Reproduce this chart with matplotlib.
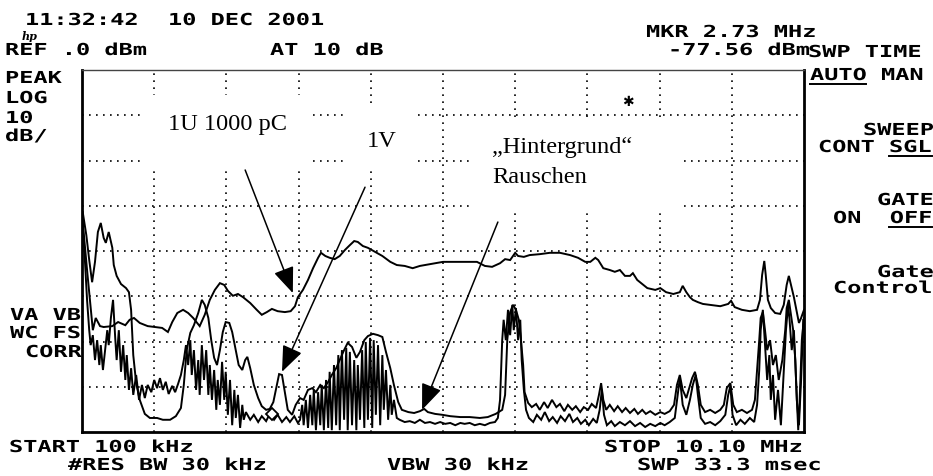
import matplotlib
matplotlib.use("Agg")
import matplotlib.pyplot as plt
from matplotlib.patches import Rectangle
from matplotlib.lines import Line2D
from matplotlib.patheffects import AbstractPathEffect
from matplotlib.transforms import Affine2D, ScaledTranslation

# ---------------- data (MHz, dBm) ----------------
freq_1u = [0.11, 0.17, 0.21, 0.25, 0.29, 0.35, 0.40, 0.52, 0.60, 0.70, 0.76, 0.82, 0.90, 1.01, 1.11,
           1.21, 1.29, 1.35, 1.42, 1.50, 1.57, 1.64, 1.73, 1.80, 1.87, 1.94, 2.01, 2.07, 2.12, 2.19,
           2.26, 2.33, 2.43, 2.52, 2.59, 2.66, 2.73, 2.81, 2.91, 2.99, 3.05, 3.09, 3.16, 3.23, 3.30,
           3.37, 3.41, 3.47, 3.53, 3.60, 3.67, 3.74, 3.81, 3.87, 3.92, 3.99, 4.06, 4.16, 4.26, 4.37,
           4.46, 4.57, 4.68, 4.78, 4.92, 5.10, 5.34, 5.57, 5.68, 5.78, 5.89, 5.96, 6.03, 6.10, 6.14,
           6.22, 6.30, 6.44, 6.58, 6.72, 6.86, 6.97, 7.07, 7.14, 7.21, 7.25, 7.32, 7.41, 7.48, 7.55,
           7.62, 7.69, 7.73, 7.79, 7.86, 7.93, 8.04, 8.11, 8.19, 8.29, 8.38, 8.42, 8.47, 8.52, 8.56,
           8.63, 8.70, 8.80, 8.94, 9.05, 9.09, 9.14, 9.24, 9.35, 9.45, 9.49, 9.52, 9.55, 9.57, 9.60,
           9.64, 9.70, 9.77, 9.82, 9.86, 9.89, 9.92, 9.96, 10.00, 10.03, 10.06, 10.10]
level_1u = [-33.6, -44.2, -50.8, -57.5, -54.8, -56.6, -56.8, -56.6, -55.7, -56.4, -55.2, -54.8, -55.9, -56.6, -56.8,
            -57.0, -57.9, -55.7, -53.7, -53.0, -53.7, -54.8, -56.6, -54.1, -50.8, -48.6, -47.1, -47.5, -48.8, -49.9,
            -49.5, -50.2, -51.5, -53.0, -54.1, -53.5, -52.8, -53.3, -53.5, -53.3, -52.2, -50.2, -48.6, -46.4, -43.8,
            -41.5, -40.4, -41.1, -41.5, -41.8, -41.1, -39.8, -38.7, -37.8, -38.0, -38.9, -39.3, -40.2, -41.1, -42.4,
            -43.1, -43.3, -43.8, -43.3, -42.9, -42.4, -42.4, -42.4, -43.3, -43.5, -42.7, -41.8, -42.0, -40.4, -41.1,
            -41.3, -40.9, -40.7, -40.4, -40.4, -40.9, -41.5, -42.4, -42.4, -41.5, -42.0, -43.8, -44.2, -44.6, -44.2,
            -45.5, -45.5, -44.9, -46.4, -47.3, -48.2, -48.6, -48.2, -49.1, -49.5, -49.1, -47.7, -49.1, -50.2, -50.8,
            -51.3, -51.7, -51.9, -52.2, -51.7, -51.0, -52.4, -53.0, -53.3, -53.0, -50.8, -45.3, -42.2, -45.3, -50.8,
            -52.6, -53.7, -53.9, -51.9, -47.5, -45.5, -47.5, -50.2, -53.5, -55.9, -54.8, -53.0]

freq_1v = [0.11, 0.16, 0.20, 0.24, 0.28, 0.32, 0.36, 0.40, 0.43, 0.47, 0.52, 0.54, 0.58, 0.64, 0.71,
           0.75, 0.78, 0.81, 0.85, 0.90, 0.97, 1.04, 1.14, 1.22, 1.32, 1.40, 1.47, 1.51, 1.55, 1.60,
           1.65, 1.71, 1.76, 1.80, 1.85, 1.89, 1.93, 1.97, 2.01, 2.05, 2.09, 2.14, 2.18, 2.23, 2.27,
           2.32, 2.36, 2.39, 2.43, 2.48, 2.54, 2.59, 2.65, 2.70, 2.75, 2.79, 2.83, 2.87, 2.91, 2.95,
           3.01, 3.06, 3.12, 3.17, 3.23, 3.29, 3.34, 3.40, 3.45, 3.51, 3.56, 3.62, 3.67, 3.73, 3.78,
           3.84, 3.90, 3.95, 4.01, 4.06, 4.13, 4.20, 4.26, 4.31, 4.37, 4.42, 4.48, 4.53, 4.62, 4.70,
           4.78, 4.84, 4.89, 4.99, 5.09, 5.20, 5.34, 5.47, 5.61, 5.72, 5.83, 5.92, 5.96, 5.99, 6.03,
           6.07, 6.11, 6.15, 6.18, 6.21, 6.23, 6.28, 6.33, 6.39, 6.44, 6.50, 6.55, 6.61, 6.67, 6.72,
           6.78, 6.83, 6.89, 6.94, 7.00, 7.05, 7.11, 7.16, 7.22, 7.26, 7.29, 7.32, 7.36, 7.41, 7.47,
           7.52, 7.58, 7.63, 7.69, 7.75, 7.80, 7.86, 7.91, 7.97, 8.04, 8.11, 8.17, 8.24, 8.30, 8.34,
           8.38, 8.42, 8.47, 8.51, 8.55, 8.59, 8.63, 8.67, 8.73, 8.80, 8.87, 8.94, 8.99, 9.03, 9.08,
           9.12, 9.17, 9.24, 9.31, 9.38, 9.42, 9.45, 9.48, 9.50, 9.53, 9.56, 9.59, 9.63, 9.67, 9.71,
           9.75, 9.80, 9.84, 9.86, 9.89, 9.92, 9.95, 9.98, 10.00, 10.03, 10.06, 10.09]
level_1v = [-31.4, -36.5, -42.0, -46.9, -42.4, -35.8, -33.8, -37.1, -38.2, -35.8, -39.3, -43.1, -45.5, -47.3, -48.2,
            -49.1, -53.0, -63.0, -69.2, -72.9, -76.0, -76.9, -76.9, -77.3, -77.3, -76.5, -74.7, -69.6, -61.9, -58.1,
            -56.4, -53.7, -50.8, -51.9, -54.8, -59.7, -63.6, -65.2, -61.9, -57.9, -55.7, -55.9, -57.9, -61.9, -65.2,
            -66.3, -64.1, -63.4, -65.9, -69.6, -72.5, -74.3, -75.1, -74.9, -73.4, -70.3, -67.2, -67.4, -71.2, -75.1,
            -76.2, -74.0, -72.5, -72.9, -70.7, -70.3, -71.2, -69.6, -70.3, -68.9, -67.4, -65.9, -64.1, -61.9, -60.3,
            -61.2, -63.6, -62.3, -59.7, -58.8, -58.3, -58.6, -59.0, -62.3, -65.9, -69.6, -73.4, -75.1, -75.6, -75.8,
            -75.4, -74.9, -75.6, -76.0, -76.2, -76.5, -76.7, -76.7, -76.9, -76.7, -76.0, -75.1, -71.8, -59.7, -53.5,
            -51.9, -53.0, -55.2, -59.7, -65.2, -71.2, -73.6, -74.5, -73.8, -75.1, -73.4, -74.7, -72.9, -74.5, -73.8,
            -75.4, -74.0, -75.1, -74.3, -75.6, -74.5, -75.1, -73.8, -74.7, -71.8, -69.2, -72.9, -75.1, -74.0, -75.4,
            -74.3, -75.6, -74.7, -75.8, -74.9, -76.0, -75.1, -76.0, -75.4, -76.2, -75.6, -76.0, -75.4, -74.0, -69.6,
            -67.4, -70.7, -72.5, -70.3, -68.1, -66.7, -69.6, -74.0, -75.6, -75.1, -75.8, -75.1, -74.0, -70.3, -69.2,
            -74.0, -75.6, -75.1, -75.8, -75.1, -72.9, -66.3, -59.7, -54.8, -53.5, -57.5, -61.9, -59.7, -65.2, -63.0,
            -68.5, -64.1, -57.5, -52.6, -50.8, -54.1, -57.5, -64.1, -72.9, -78.5, -68.5, -55.2]

freq_bg = [0.11, 0.14, 0.17, 0.20, 0.22, 0.25, 0.28, 0.31, 0.34, 0.36, 0.39, 0.42, 0.45, 0.47, 0.50,
           0.53, 0.56, 0.58, 0.61, 0.64, 0.67, 0.70, 0.72, 0.75, 0.78, 0.81, 0.85, 0.89, 0.93, 0.97,
           1.01, 1.06, 1.10, 1.14, 1.18, 1.22, 1.26, 1.30, 1.35, 1.39, 1.43, 1.47, 1.51, 1.54, 1.57,
           1.60, 1.62, 1.65, 1.68, 1.71, 1.73, 1.76, 1.79, 1.82, 1.85, 1.87, 1.90, 1.93, 1.96, 1.98,
           2.01, 2.04, 2.07, 2.09, 2.12, 2.15, 2.18, 2.21, 2.23, 2.26, 2.29, 2.32, 2.34, 2.37, 2.43,
           2.48, 2.54, 2.59, 2.65, 2.70, 2.76, 2.81, 2.87, 2.93, 2.98, 3.04, 3.09, 3.12, 3.15, 3.17,
           3.20, 3.23, 3.26, 3.29, 3.31, 3.34, 3.37, 3.40, 3.42, 3.45, 3.48, 3.51, 3.53, 3.56, 3.59,
           3.62, 3.65, 3.67, 3.70, 3.73, 3.76, 3.78, 3.81, 3.84, 3.87, 3.90, 3.92, 3.95, 3.98, 4.01,
           4.03, 4.06, 4.09, 4.12, 4.14, 4.17, 4.20, 4.23, 4.26, 4.28, 4.31, 4.34, 4.37, 4.39, 4.42,
           4.46, 4.50, 4.57, 4.64, 4.71, 4.78, 4.85, 4.92, 4.99, 5.06, 5.13, 5.20, 5.27, 5.34, 5.40,
           5.47, 5.54, 5.61, 5.68, 5.75, 5.82, 5.86, 5.89, 5.92, 5.94, 5.97, 6.00, 6.03, 6.06, 6.08,
           6.11, 6.14, 6.17, 6.19, 6.22, 6.25, 6.29, 6.35, 6.40, 6.46, 6.51, 6.57, 6.62, 6.68, 6.73,
           6.79, 6.85, 6.90, 6.96, 7.01, 7.07, 7.12, 7.18, 7.23, 7.27, 7.30, 7.33, 7.37, 7.43, 7.48,
           7.55, 7.62, 7.69, 7.76, 7.83, 7.90, 7.97, 8.04, 8.11, 8.17, 8.24, 8.31, 8.35, 8.38, 8.42,
           8.47, 8.52, 8.56, 8.60, 8.63, 8.67, 8.73, 8.80, 8.87, 8.94, 9.01, 9.05, 9.08, 9.11, 9.16,
           9.22, 9.28, 9.35, 9.41, 9.45, 9.48, 9.50, 9.53, 9.56, 9.59, 9.62, 9.64, 9.67, 9.70, 9.74,
           9.78, 9.82, 9.85, 9.88, 9.90, 9.93, 9.96, 9.99, 10.02, 10.04, 10.07, 10.10]
level_bg = [-34.3, -42.0, -50.8, -57.5, -60.8, -58.6, -64.1, -59.7, -65.2, -60.8, -66.3, -61.9, -57.5, -60.8, -54.8,
            -50.8, -59.2, -64.1, -57.5, -66.7, -60.8, -68.5, -63.0, -70.7, -65.9, -71.8, -67.4, -72.9, -69.6, -72.5,
            -69.6, -71.2, -68.5, -70.3, -68.1, -70.7, -68.9, -71.6, -69.8, -71.2, -69.4, -67.4, -64.1, -60.8, -65.2,
            -59.7, -67.4, -61.9, -70.7, -64.1, -71.8, -60.8, -68.5, -61.9, -71.8, -65.2, -72.9, -66.3, -75.1, -68.5,
            -74.0, -64.5, -72.9, -66.7, -76.2, -68.5, -78.5, -70.7, -76.9, -71.8, -79.1, -74.0, -77.3, -75.6, -77.3,
            -76.2, -77.8, -76.5, -77.6, -76.0, -77.3, -76.2, -77.8, -76.7, -77.8, -76.5, -78.0, -77.3, -74.0, -78.5,
            -72.9, -79.1, -71.8, -78.5, -70.7, -79.6, -71.2, -78.5, -69.6, -79.6, -68.5, -79.1, -66.7, -79.6, -65.2,
            -78.5, -63.0, -79.6, -61.9, -77.3, -61.4, -79.6, -62.3, -78.5, -64.1, -79.6, -65.2, -77.3, -61.9, -79.1,
            -60.1, -77.3, -59.2, -79.1, -59.7, -76.2, -60.8, -78.5, -63.0, -75.1, -66.3, -77.3, -69.6, -76.2, -72.9,
            -76.9, -77.3, -77.8, -77.6, -78.0, -77.3, -78.0, -77.8, -78.2, -77.8, -78.2, -78.0, -78.5, -78.0, -78.2,
            -78.0, -78.5, -78.2, -78.5, -78.0, -77.8, -76.9, -72.9, -59.7, -55.2, -59.7, -53.0, -58.6, -51.9, -57.5,
            -52.6, -59.7, -55.2, -64.1, -70.7, -75.1, -76.9, -77.8, -76.2, -77.3, -75.6, -77.6, -76.7, -78.0, -76.5,
            -77.6, -76.0, -77.8, -76.9, -78.2, -77.3, -78.5, -77.1, -78.0, -75.1, -70.7, -76.2, -78.5, -77.6, -78.7,
            -77.8, -78.5, -77.6, -78.7, -78.0, -78.9, -78.2, -78.7, -78.0, -78.5, -77.8, -76.9, -71.8, -68.1, -74.0,
            -76.2, -72.9, -69.6, -67.4, -71.8, -76.9, -78.2, -77.8, -78.5, -77.6, -76.2, -71.8, -69.8, -76.2, -78.5,
            -77.3, -78.2, -76.9, -77.8, -74.0, -66.3, -57.5, -53.0, -60.8, -68.5, -63.0, -72.9, -67.4, -77.3, -70.7,
            -78.5, -66.3, -57.5, -51.9, -55.2, -61.9, -57.5, -68.5, -79.6, -72.9, -59.7, -54.8]

mkr_freq = 2.73      # MHz
mkr_level = -77.56   # dBm
start_mhz, stop_mhz = 0.1, 10.1
ref_level, db_per_div, n_vdiv = 0.0, 10, 8

# ---------------- figure ----------------
W, H = 933, 476
fig = plt.figure(figsize=(W / 100, H / 100), dpi=100)
fig.patch.set_facecolor("white")
ax = fig.add_axes([82 / W, (H - 432) / H, 722 / W, 362 / H])
ax.set_xlim(start_mhz, stop_mhz)
ax.set_ylim(ref_level - db_per_div * n_vdiv, ref_level)
ax.set_xticks([])
ax.set_yticks([])
for side in ("left", "bottom", "right"):
    ax.spines[side].set_linewidth(2.0)
ax.spines["top"].set_linewidth(1.0)
ax.spines["top"].set_color("#444444")

dot = (0, (1, 3.2))
for i in range(1, 10):
    ax.axvline(start_mhz + i, color="k", lw=1.2, ls=dot, zorder=1)
for j in range(1, n_vdiv):
    ax.axhline(ref_level - db_per_div * j, color="k", lw=1.2, ls=dot, zorder=1)

# white label boxes that hide the graticule
for (x0, y0, x1, y1) in [(0.945, -21.7, 3.286, -5.5), (3.715, -21.7, 4.754, -8.2), (5.515, -31.4, 8.424, -10.6)]:
    ax.add_patch(Rectangle((x0, y0), x1 - x0, y1 - y0, facecolor="white", edgecolor="none", zorder=1.5))

for fq, lv in [(freq_1u, level_1u), (freq_1v, level_1v), (freq_bg, level_bg)]:
    ax.plot(fq, lv, color="k", lw=1.4, zorder=3, solid_joinstyle="miter")

# marker diamond
ax.plot([mkr_freq], [mkr_level], marker="D", ms=6, mfc="white", mec="k", mew=1.3, zorder=4,
        transform=ax.transData + ScaledTranslation(0, 7 / 100, fig.dpi_scale_trans))
ax.text(7.66, -7.1, "✱", fontsize=10, fontweight="bold", ha="center", va="center", color="k",
        family="DejaVu Sans", zorder=5)

# annotations
serif = "Liberation Serif"
ax.text(1.29, -13.3, "1U 1000 pC", family=serif, fontsize=17.6, ha="left", va="baseline", zorder=5)
ax.text(4.05, -17.0, "1V", family=serif, fontsize=17.6, ha="left", va="baseline", zorder=5)
ax.text(5.78, -18.3, "\u201eHintergrund\u201c", family=serif, fontsize=17.6, ha="left", va="baseline", zorder=5)
ax.text(5.78, -25.0, "Rauschen", family=serif, fontsize=17.6, ha="left", va="baseline", zorder=5)
ap = dict(arrowstyle="-|>,head_length=0.8,head_width=0.32", color="k", lw=1.1, shrinkA=0, shrinkB=0,
          mutation_scale=20)
ax.annotate("", xy=(3.02, -49.3), xytext=(2.36, -22.1), arrowprops=ap, zorder=6)
ax.annotate("", xy=(2.87, -66.7), xytext=(4.02, -25.9), arrowprops=ap, zorder=6)
ax.annotate("", xy=(4.81, -75.1), xytext=(5.86, -33.6), arrowprops=ap, zorder=6)


# ---------------- instrument annotations ----------------
class Stretch(AbstractPathEffect):
    def __init__(self, sx):
        super().__init__()
        self.sx = sx

    def draw_path(self, renderer, gc, tpath, affine, rgbFace=None):
        renderer.draw_path(gc, tpath, Affine2D().scale(self.sx, 1.0) + affine, rgbFace)


HP_PX = 16.5
PITCH = 14.2
SX = PITCH / (0.602 * HP_PX)


def hp(x, y, s, weight="bold"):
    fig.text(x / W, 1 - y / H, s, family="DejaVu Sans Mono", fontweight=weight,
             fontsize=HP_PX * 0.72, ha="left", va="baseline", path_effects=[Stretch(SX)])


def uline(x0, x1, y):
    fig.add_artist(Line2D([x0 / W, x1 / W], [1 - y / H, 1 - y / H], transform=fig.transFigure, color="k", lw=1.4))


hp(25, 25, "11:32:42")
hp(168, 25, "10 DEC 2001")
fig.text(22 / W, 1 - 40 / H, "hp", family="DejaVu Serif", style="italic", fontweight="bold", fontsize=8,
         ha="left", va="baseline")
hp(5, 55, "REF .0 dBm")
hp(270, 55, "AT 10 dB")
hp(5, 83, "PEAK")
hp(5, 103, "LOG")
hp(5, 123, "10")
hp(5, 141, "dB/")
hp(646, 37, "MKR 2.73 MHz")
hp(668, 55, "-77.56 dBm")
hp(808, 57, "SWP TIME")
hp(810, 80, "AUTO MAN")
uline(810, 866, 84)
hp(863, 135, "SWEEP")
hp(818, 152, "CONT SGL")
uline(889, 932, 156)
hp(877, 205, "GATE")
hp(833, 223, "ON  OFF")
uline(889, 932, 227)
hp(877, 277, "Gate")
hp(833, 293, "Control")
hp(10, 320, "VA VB")
hp(10, 338, "WC FS")
hp(25, 357, "CORR")
hp(9, 452, "START 100 kHz")
hp(604, 452, "STOP 10.10 MHz")
hp(68, 470, "#RES BW 30 kHz")
hp(387, 470, "VBW 30 kHz")
hp(637, 470, "SWP 33.3 msec")

fig.savefig("out.png", dpi=100)
